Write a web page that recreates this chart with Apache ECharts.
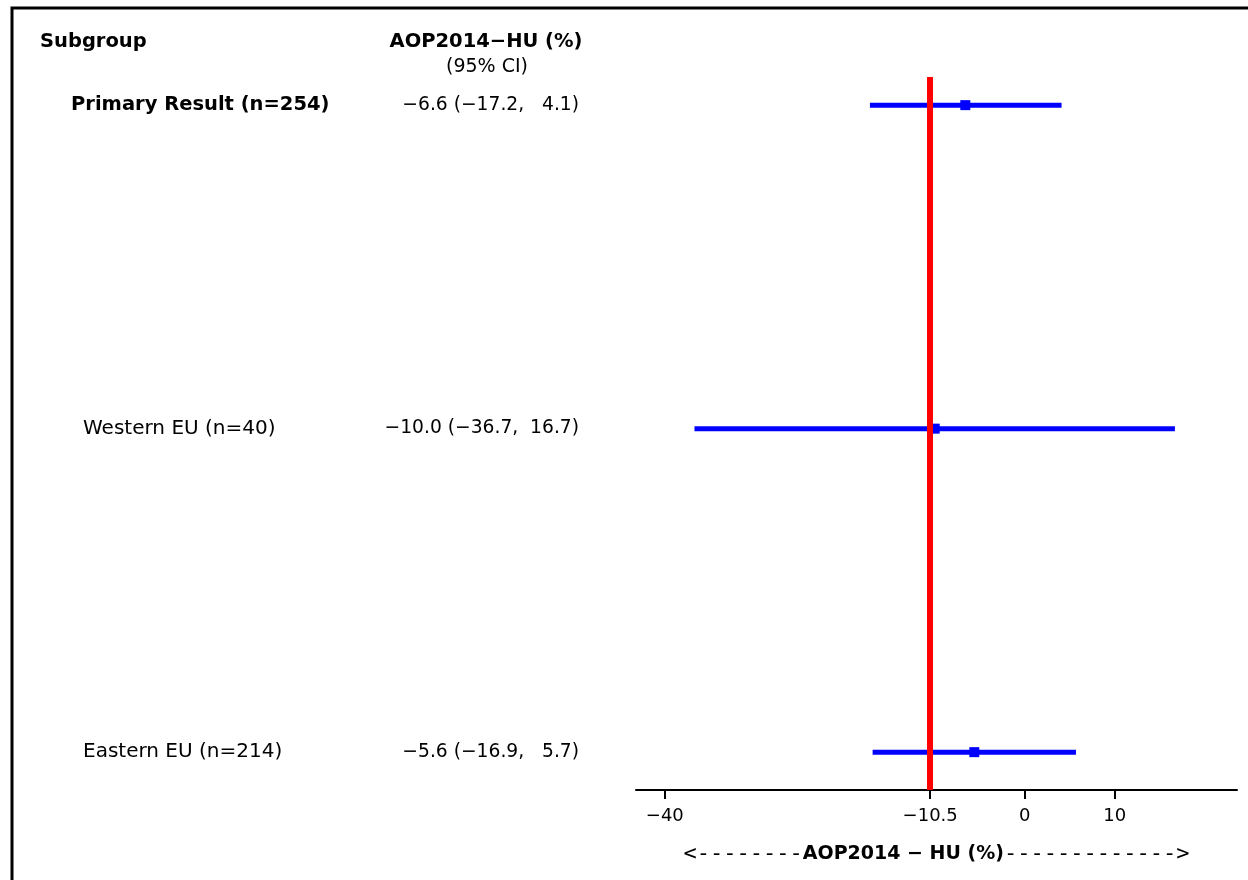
<!DOCTYPE html>
<html>
<head>
<meta charset="utf-8">
<script src="https://cdn.jsdelivr.net/npm/echarts@6/dist/echarts.min.js"></script>
<style>
html,body{margin:0;padding:0;background:#fff;}
#chart{width:1248px;height:880px;}
</style>
</head>
<body>
<div id="chart"></div>
<script>
// ---- data ----
const subgroups = ['Primary Result (n=254)', 'Western EU (n=40)', 'Eastern EU (n=214)'];
const estimates = [-6.6, -10.0, -5.6];
const lowerCI = [-17.2, -36.7, -16.9];
const upperCI = [4.1, 16.7, 5.7];
const boldRows = [true, false, false];
const tickValues = [-40, -10.5, 0, 10];
const referenceValue = -10.5;
const colHeader = 'AOP2014\u2212HU (%)';
const colSubHeader = '(95% CI)';
const axisTitle = 'AOP2014 \u2212 HU (%)';

// ---- helpers ----
const FONT = '"DejaVu Sans", sans-serif';
const MONO = '"DejaVu Sans Mono", monospace';
function fmt(v) { return v.toFixed(1).replace('-', '\u2212'); }
function ciLabel(i) {
  const hi = fmt(upperCI[i]);
  return fmt(estimates[i]) + ' (' + fmt(lowerCI[i]) + ',  ' + hi.padStart(4, ' ') + ')';
}
const rows = subgroups.map((s, i) => [estimates[i], i, lowerCI[i], upperCI[i]]);

const chart = echarts.init(document.getElementById('chart'), null, {renderer: 'canvas'});
chart.setOption({
  backgroundColor: '#fff',
  animation: false,
  grid: {left: 636, right: 11, top: 77, bottom: 90, containLabel: false},
  xAxis: {
    type: 'value',
    min: -43.2, max: 23.6,
    splitLine: {show: false},
    axisLine: {show: true, onZero: false, lineStyle: {color: '#000', width: 2}},
    axisTick: {show: true, customValues: tickValues, length: 9, lineStyle: {color: '#000', width: 2}},
    axisLabel: {
      show: true, customValues: tickValues, margin: 17,
      color: '#000', fontSize: 18, fontFamily: FONT,
      formatter: v => String(v).replace('-', '\u2212')
    },
    name: '{d|<--------}{b|' + axisTitle + '}{d|------------->}',
    nameLocation: 'middle', nameGap: 53,
    nameTextStyle: {
      rich: {
        d: {fontSize: 22, fontFamily: MONO, color: '#000'},
        b: {fontSize: 19, fontFamily: FONT, fontWeight: 'bold', color: '#000'}
      }
    }
  },
  yAxis: {
    type: 'value', inverse: true, min: -0.087, max: 2.117,
    show: false, splitLine: {show: false}
  },
  graphic: [
    {type: 'rect', shape: {x: 12, y: 8, width: 1400, height: 1000}, style: {fill: null, stroke: '#000', lineWidth: 3}, silent: true, z: 100},
    {type: 'text', x: 40, y: 42, style: {text: 'Subgroup', font: 'bold 19.5px ' + FONT, fill: '#000', textVerticalAlign: 'middle'}},
    {type: 'text', x: 486, y: 42, style: {text: colHeader, font: 'bold 19.5px ' + FONT, fill: '#000', textAlign: 'center', textVerticalAlign: 'middle'}},
    {type: 'text', x: 487, y: 67, style: {text: colSubHeader, font: '19px ' + FONT, fill: '#000', textAlign: 'center', textVerticalAlign: 'middle'}}
  ],
  series: [
    {
      type: 'custom', name: 'labels', clip: false, silent: true,
      data: rows,
      renderItem: function (params, api) {
        const i = api.value(1);
        const p = api.coord([0, i]);
        const bold = boldRows[i];
        return {
          type: 'group',
          children: [
            {type: 'text', x: bold ? 71 : 83, y: p[1], style: {text: subgroups[i], font: (bold ? 'bold 19.5px ' : '20px ') + FONT, fill: '#000', textVerticalAlign: 'middle'}},
            {type: 'text', x: 579, y: p[1], style: {text: ciLabel(i), font: '18.7px ' + FONT, fill: '#000', textAlign: 'right', textVerticalAlign: 'middle'}}
          ]
        };
      }
    },
    {
      type: 'custom', name: 'ci', clip: false, z: 2,
      data: rows,
      renderItem: function (params, api) {
        const y = api.value(1);
        const a = api.coord([api.value(2), y]);
        const b = api.coord([api.value(3), y]);
        const c = api.coord([api.value(0), y]);
        return {
          type: 'group',
          children: [
            {type: 'line', shape: {x1: a[0], y1: a[1], x2: b[0], y2: b[1]}, style: {stroke: '#0000ff', lineWidth: 5}},
            {type: 'rect', shape: {x: c[0] - 5, y: c[1] - 5, width: 10, height: 10}, style: {fill: '#0000ff'}}
          ]
        };
      }
    },
    {
      type: 'line', name: 'ref', data: [], z: 5,
      markLine: {
        silent: true, symbol: ['none', 'none'], label: {show: false},
        lineStyle: {color: '#ff0000', width: 6, type: 'solid'},
        data: [{xAxis: referenceValue}]
      }
    }
  ]
});
</script>
</body>
</html>
